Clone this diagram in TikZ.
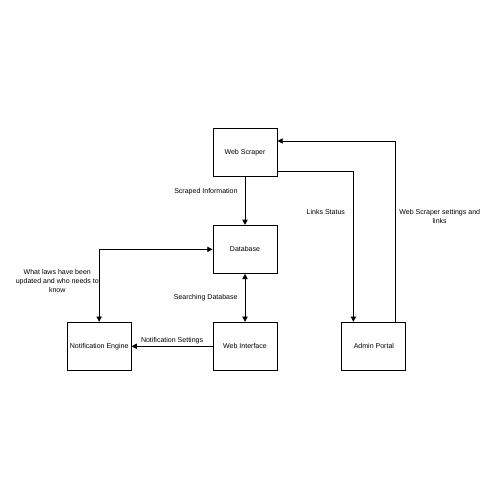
\documentclass[tikz,border=0pt]{standalone}
\usepackage{fontspec}
\setmainfont{Liberation Sans}
\usetikzlibrary{arrows.meta, positioning}

\begin{document}
\begin{tikzpicture}[line width=0.5pt, node distance=0.96cm,
        every node/.style={align=center, font=\fontsize{4}{5.1}\selectfont},
        box/.style={draw, rectangle, inner sep=0.5pt, minimum width=1.28cm, minimum height=0.96cm},
        lbl/.style={inner sep=0pt},
        arr/.style={-{Triangle[length=3pt, width=3pt]}},
        darr/.style={{Triangle[length=3pt, width=3pt]}-{Triangle[length=3pt, width=3pt]}}]
        \useasboundingbox (0,0) rectangle (10,-10);
        \node (scraper) [box] at (4.9,-3.05) {Web Scraper};
        \node (database) [box, below=of scraper] {Database};
        \node (webui) [box, below=of database] {Web Interface};
        \node (notify) [box, left=1.62cm of webui] {Notification Engine};
        \node (admin) [box, right=1.28cm of webui] {Admin Portal};
        
        \draw[arr] (scraper) -- (database) node[lbl, pos=0.3, left=0.14cm] {Scraped Information};
        \draw[darr] (database) -- (webui) node[lbl, midway, left=0.14cm] {Searching Database};
        \draw[arr] (webui) -- (notify) node[lbl, midway, above=1pt] {Notification Settings};
        \draw[darr] (database.west) -| (notify.north) node[lbl, pos=0.715, left=0pt] {What laws have been\\updated and who needs to\\know};
        \draw[arr] ([yshift=-0.37cm]scraper.east) -| ([xshift=-0.41cm]admin.north) node[lbl, pos=0.637, left=0.16cm] {Links Status};
        \draw[arr] ([xshift=0.43cm]admin.north) |- ([yshift=0.23cm]scraper.east) node[lbl, pos=0.29, right=2pt] {Web Scraper settings and\\links};
    \end{tikzpicture}
\end{document}
